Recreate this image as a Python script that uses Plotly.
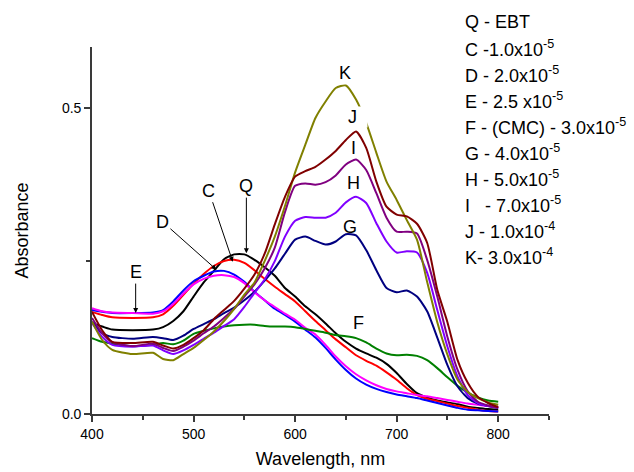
import plotly.graph_objects as go

wavelength = [400, 410, 420, 440, 460, 470, 480, 490, 500, 510, 520, 530, 540, 550, 560, 570, 580, 590,
              600, 610, 620, 630, 640, 650, 660, 670, 680, 690, 700, 710, 720, 730, 740, 750, 760, 770,
              780, 790, 800]

abs_Q = [0.148, 0.143, 0.138, 0.137, 0.138, 0.142, 0.152, 0.168, 0.192, 0.215, 0.234, 0.253, 0.261, 0.261,
         0.252, 0.240, 0.226, 0.206, 0.192, 0.176, 0.163, 0.148, 0.132, 0.118, 0.107, 0.099, 0.092, 0.082,
         0.067, 0.049, 0.034, 0.027, 0.022, 0.019, 0.016, 0.012, 0.010, 0.008, 0.007]
abs_C = [0.167, 0.162, 0.158, 0.157, 0.158, 0.163, 0.177, 0.195, 0.213, 0.229, 0.242, 0.250, 0.252, 0.247,
         0.235, 0.221, 0.208, 0.196, 0.184, 0.168, 0.152, 0.137, 0.122, 0.109, 0.096, 0.087, 0.079, 0.068,
         0.056, 0.042, 0.031, 0.025, 0.021, 0.017, 0.013, 0.010, 0.007, 0.005, 0.004]
abs_D = [0.170, 0.167, 0.165, 0.165, 0.166, 0.170, 0.184, 0.202, 0.217, 0.226, 0.233, 0.234, 0.228, 0.216,
         0.200, 0.186, 0.172, 0.162, 0.151, 0.138, 0.125, 0.108, 0.089, 0.072, 0.058, 0.048, 0.041, 0.036,
         0.032, 0.029, 0.026, 0.022, 0.018, 0.014, 0.010, 0.007, 0.006, 0.005, 0.004]
abs_E = [0.173, 0.168, 0.166, 0.165, 0.164, 0.168, 0.180, 0.197, 0.212, 0.221, 0.226, 0.227, 0.224, 0.214,
         0.199, 0.186, 0.175, 0.164, 0.154, 0.141, 0.130, 0.113, 0.094, 0.078, 0.065, 0.055, 0.047, 0.041,
         0.037, 0.034, 0.031, 0.029, 0.026, 0.023, 0.020, 0.017, 0.015, 0.013, 0.012]
abs_F = [0.124, 0.118, 0.115, 0.111, 0.113, 0.116, 0.114, 0.120, 0.131, 0.136, 0.140, 0.143, 0.145, 0.146,
         0.146, 0.144, 0.143, 0.143, 0.142, 0.139, 0.136, 0.133, 0.129, 0.127, 0.124, 0.117, 0.107, 0.099,
         0.096, 0.097, 0.095, 0.088, 0.075, 0.060, 0.046, 0.035, 0.027, 0.022, 0.020]
abs_G = [0.151, 0.132, 0.126, 0.123, 0.126, 0.124, 0.121, 0.128, 0.139, 0.147, 0.155, 0.165, 0.174, 0.186,
         0.200, 0.218, 0.238, 0.262, 0.285, 0.290, 0.283, 0.277, 0.282, 0.294, 0.292, 0.268, 0.235, 0.206,
         0.199, 0.202, 0.192, 0.168, 0.125, 0.080, 0.045, 0.026, 0.017, 0.013, 0.010]
abs_H = [0.149, 0.126, 0.113, 0.110, 0.112, 0.104, 0.098, 0.104, 0.113, 0.123, 0.133, 0.144, 0.155, 0.175,
         0.198, 0.220, 0.250, 0.290, 0.316, 0.322, 0.321, 0.321, 0.329, 0.346, 0.355, 0.345, 0.312, 0.282,
         0.264, 0.266, 0.264, 0.231, 0.170, 0.110, 0.061, 0.031, 0.018, 0.013, 0.010]
abs_I = [0.157, 0.132, 0.117, 0.111, 0.115, 0.108, 0.103, 0.110, 0.120, 0.132, 0.143, 0.157, 0.172, 0.192,
         0.212, 0.238, 0.272, 0.330, 0.373, 0.377, 0.375, 0.379, 0.390, 0.408, 0.416, 0.399, 0.361, 0.321,
         0.298, 0.298, 0.295, 0.252, 0.192, 0.126, 0.072, 0.037, 0.020, 0.014, 0.010]
abs_J = [0.167, 0.137, 0.118, 0.116, 0.118, 0.112, 0.107, 0.113, 0.124, 0.137, 0.155, 0.170, 0.185, 0.205,
         0.228, 0.262, 0.310, 0.355, 0.388, 0.397, 0.404, 0.416, 0.430, 0.448, 0.462, 0.435, 0.380, 0.339,
         0.326, 0.323, 0.311, 0.280, 0.203, 0.150, 0.088, 0.051, 0.028, 0.018, 0.011]
abs_K = [0.151, 0.121, 0.105, 0.098, 0.100, 0.090, 0.088, 0.098, 0.108, 0.121, 0.135, 0.152, 0.172, 0.195,
         0.215, 0.250, 0.290, 0.340, 0.395, 0.440, 0.484, 0.511, 0.533, 0.537, 0.514, 0.476, 0.427, 0.380,
         0.350, 0.317, 0.285, 0.216, 0.150, 0.097, 0.056, 0.036, 0.026, 0.019, 0.015]

series_names = ["Q", "C", "D", "E", "F", "G", "H", "I", "K", "J"]
series_values = [abs_Q, abs_C, abs_D, abs_E, abs_F, abs_G, abs_H, abs_I, abs_K, abs_J]
series_colors = ["#000000", "#FF0000", "#0000FF", "#FF00FF", "#008000", "#000080",
                 "#8000FF", "#800080", "#808000", "#800000"]

legend_lines = [
    "Q - EBT",
    "C -1.0x10<sup>-5</sup>",
    "D - 2.0x10<sup>-5</sup>",
    "E - 2.5 x10<sup>-5</sup>",
    "F - (CMC) - 3.0x10<sup>-5</sup>",
    "G - 4.0x10<sup>-5</sup>",
    "H - 5.0x10<sup>-5</sup>",
    "I\u00a0\u00a0 - 7.0x10<sup>-5</sup>",
    "J - 1.0x10<sup>-4</sup>",
    "K- 3.0x10<sup>-4</sup>",
]

# curve labels (text, wavelength, absorbance)
plain_labels = [("K", 649.5, 0.557), ("I", 657, 0.435), ("H", 657, 0.378),
                ("G", 654, 0.306), ("F", 662, 0.149)]
# arrow labels (text, tip wavelength, tip absorbance, ax, ay)
arrow_labels = [("Q", 552, 0.263, 0, -67), ("C", 538.6, 0.249, -24, -71),
                ("D", 522.5, 0.236, -54, -48), ("E", 443, 0.165, 0, -41)]

FONT = "Liberation Sans, Arial, sans-serif"
AX = "#3a3a3a"

fig = go.Figure()
for name, vals, col in zip(series_names, series_values, series_colors):
    fig.add_trace(go.Scatter(x=wavelength, y=vals, mode="lines", name=name,
                             line=dict(color=col, width=2, shape="spline", smoothing=0.6),
                             hoverinfo="skip"))

ann = []
for t, x, y in plain_labels:
    ann.append(dict(x=x, y=y, xref="x", yref="y", text=t, showarrow=False,
                    font=dict(size=18, color="black", family=FONT)))
# J label with white background (breaks the olive line like the original)
ann.append(dict(x=661.9, y=0.4855, xref="x", yref="y", text="J\u00a0\u00a0", showarrow=False,
                bgcolor="white", borderpad=0,
                font=dict(size=18, color="black", family=FONT)))
for t, x, y, axp, ayp in arrow_labels:
    ann.append(dict(x=x, y=y, xref="x", yref="y", text=t, showarrow=True,
                    ax=axp, ay=ayp, arrowhead=2, arrowsize=1, arrowwidth=1,
                    arrowcolor="black", standoff=0,
                    font=dict(size=18, color="black", family=FONT)))
for i, line in enumerate(legend_lines):
    py = 22 + i * 26.1
    ann.append(dict(x=(463 - 92) / 457, y=(414 - py) / 367, xref="paper", yref="paper",
                    xanchor="left", yanchor="middle", text=line, showarrow=False,
                    font=dict(size=18, color="black", family=FONT)))

fig.update_layout(
    width=634, height=472,
    margin=dict(l=92, r=85, t=47, b=58),
    plot_bgcolor="white", paper_bgcolor="white",
    showlegend=False,
    font=dict(family=FONT, color="black"),
    annotations=ann,
    xaxis=dict(range=[400, 850], showline=True, linecolor=AX, linewidth=1.6,
               ticks="outside", ticklen=6, tickwidth=1.5, tickcolor=AX,
               tick0=400, dtick=100, tickfont=dict(size=14),
               minor=dict(dtick=50, tick0=400, ticks="outside", ticklen=4, tickwidth=1.5, tickcolor=AX),
               showgrid=False, zeroline=False, automargin=False,
               title=dict(text="Wavelength, nm", font=dict(size=18), standoff=12)),
    yaxis=dict(range=[0, 0.6], showline=True, linecolor=AX, linewidth=1.6,
               ticks="outside", ticklen=6, tickwidth=1.5, tickcolor=AX,
               tick0=0, dtick=0.5, tickformat=".1f", tickfont=dict(size=14),
               minor=dict(dtick=0.25, tick0=0, ticks="outside", ticklen=4, tickwidth=1.5, tickcolor=AX),
               showgrid=False, zeroline=False, automargin=False,
               title=dict(text="Absorbance", font=dict(size=18), standoff=29)),
)

fig.write_html("out.html")
